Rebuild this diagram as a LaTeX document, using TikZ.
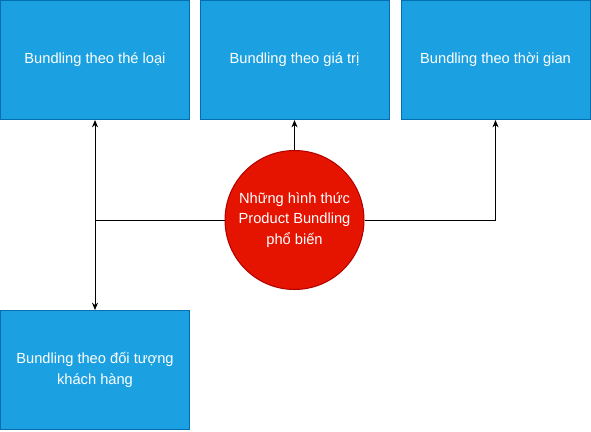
\documentclass[tikz,border=0pt]{standalone}
\usepackage{fontspec}
\setmainfont{Liberation Sans}
\usetikzlibrary{arrows.meta}
\definecolor{boxfill}{HTML}{1BA1E2}
\definecolor{boxline}{HTML}{006EAF}
\definecolor{circfill}{HTML}{E51400}
\definecolor{circline}{HTML}{B20000}
\tikzset{
  catbox/.style={rectangle, draw=boxline, fill=boxfill, line width=0.75pt,
    minimum width=141.75pt, minimum height=89.25pt, inner sep=2pt,
    text=white, align=center, font=\fontsize{11}{15.5}\selectfont},
  hub/.style={circle, draw=circline, fill=circfill, line width=0.75pt,
    minimum size=104.25pt, inner sep=0pt,
    text=white, align=center, font=\fontsize{11}{15.5}\selectfont},
  conn/.style={draw=black, line width=0.75pt},
  arr/.style={conn, -{Stealth[length=5.5pt,width=4.5pt]}}
}
\begin{document}
\begin{tikzpicture}[x=0.75pt,y=-0.75pt]
\useasboundingbox (0,0) rectangle (591,431);
\fill[white] (0,0) rectangle (591,431);
\node[catbox] (a) at (95,60) {Bundling theo thé loại};
\node[catbox] (b) at (294.5,60) {Bundling theo giá trị};
\node[catbox] (r) at (495.5,60) {Bundling theo thời gian};
\node[catbox] (d) at (95,370) {Bundling theo đối tượng\\khách hàng};
\node[hub] (c) at (294.5,220) {Những hình thức\\Product Bundling\\phổ biến};
\coordinate (j) at (95,220);
\draw[conn] (c.west) -- (j);
\draw[arr] (j) -- (a.south);
\draw[arr] (j) -- (d.north);
\draw[arr] (c.north) -- (b.south);
\draw[arr] (c.east) -| (r.south);
\end{tikzpicture}
\end{document}
